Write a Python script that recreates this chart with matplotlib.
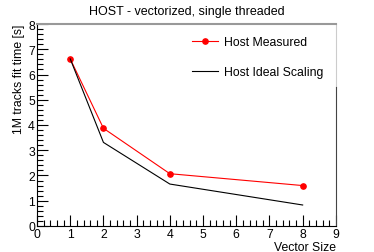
import matplotlib.pyplot as plt
from matplotlib.ticker import MultipleLocator

plt.rcParams['font.family'] = ['Liberation Sans', 'DejaVu Sans']

vec_size = [1, 2, 4, 8]
measured = [6.62, 3.87, 2.07, 1.60]
ideal = [6.62, 3.31, 1.66, 0.83]

fig = plt.figure(figsize=(3.74, 2.53), dpi=100)
ax = fig.add_axes([0.099, 0.103, 0.799, 0.798])

ax.plot(vec_size, measured, color='red', lw=0.8, marker='o', ms=3.8,
        label='Host Measured')
ax.plot(vec_size, ideal, color='black', lw=0.8, label='Host Ideal Scaling')

ax.set_xlim(0, 9)
ax.set_ylim(0, 8)
ax.xaxis.set_major_locator(MultipleLocator(1))
ax.xaxis.set_minor_locator(MultipleLocator(0.2))
ax.yaxis.set_major_locator(MultipleLocator(1))
ax.yaxis.set_minor_locator(MultipleLocator(0.2))
ax.tick_params(which='major', direction='in', length=8, width=0.8,
               labelsize=8.8, pad=1.5, top=False, right=False)
ax.tick_params(which='minor', direction='in', length=4, width=0.8,
               top=False, right=False)

# frame like the ROOT canvas
ax.spines['top'].set_color('#999999')
ax.spines['top'].set_linewidth(1.5)
ax.spines['right'].set_bounds(0, 5.5)
ax.spines['right'].set_color('#444444')
ax.plot([1, 1], [5.5 / 8, 1], transform=ax.transAxes, color='#cccccc',
        lw=0.8, clip_on=False)

ax.set_title('HOST - vectorized, single threaded', fontsize=9, pad=7)
ax.set_xlabel('Vector Size', fontsize=8.8, loc='right', labelpad=1)
ax.set_ylabel('1M tracks fit time [s]', fontsize=8.8, loc='top', labelpad=2)

ax.legend(loc='upper right', bbox_to_anchor=(0.957, 0.94), frameon=False,
          fontsize=8.8, handlelength=2.1, handletextpad=0.5,
          labelspacing=1.45, borderaxespad=0, borderpad=0)

fig.savefig('out.png', dpi=100)
